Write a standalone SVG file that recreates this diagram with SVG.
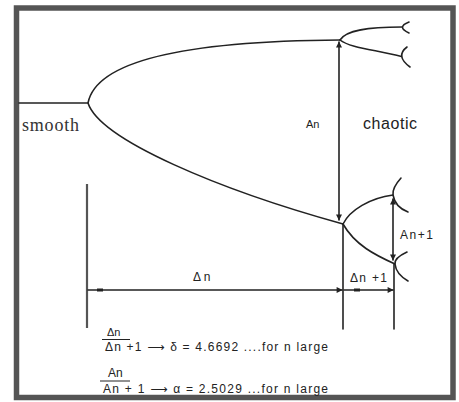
<svg xmlns="http://www.w3.org/2000/svg" width="459" height="402" viewBox="0 0 459 402">
<defs>
<style>
.ln{fill:none;stroke:#222;stroke-width:1.6;stroke-linecap:round}
.gr{fill:none;stroke:#555;stroke-width:2.2}
.sans{font-family:"Liberation Sans","DejaVu Sans",sans-serif;fill:#222}
.serif{font-family:"Liberation Serif","DejaVu Serif",serif;fill:#333}
</style>
<marker id="ah" viewBox="0 0 10 10" refX="9" refY="5" markerWidth="8" markerHeight="6" markerUnits="userSpaceOnUse" orient="auto-start-reverse">
<path d="M0,0 L10,5 L0,10 z" fill="#222"/>
</marker>
</defs>
<rect x="0" y="0" width="459" height="402" fill="#fff"/>
<rect x="16.5" y="8" width="436.5" height="389.5" fill="none" stroke="#555" stroke-width="5.5"/>

<g id="curves">
<path class="ln" d="M19,103 L88,103"/>
<path class="ln" d="M340,40 C180,41 96,62 88,103 C100,140 220,190 343,224"/>
<path class="ln" d="M340,40 C346,30 368,27 402,27"/>
<path class="ln" d="M409,22 Q396,27 409,33"/>
<path class="ln" d="M340,40 C350,48 378,50 401.5,56.5"/>
<path class="ln" d="M407,47 Q395,56 410,67"/>
<path class="ln" d="M343,224 C350,210 370,198 393,195"/>
<path class="ln" d="M401,178 Q392,188 393,195 Q395,207 408,212"/>
<path class="ln" d="M343,224 C355,245 375,255 395,264"/>
<path class="ln" d="M407,252 Q394,258 395,264 Q396,274 408,281"/>
</g>

<g id="connectors">
<line class="ln" x1="339" y1="42" x2="339" y2="220" marker-start="url(#ah)" marker-end="url(#ah)"/>
<line class="ln" x1="393" y1="199" x2="393" y2="260" marker-start="url(#ah)" marker-end="url(#ah)"/>
<line class="gr" x1="87" y1="184" x2="87" y2="328"/>
<line class="ln" x1="343" y1="224" x2="343" y2="329"/>
<line class="ln" x1="394" y1="264" x2="394" y2="329"/>
<line class="ln" x1="88" y1="290" x2="342" y2="290" marker-end="url(#ah)"/>
<line class="ln" x1="344" y1="290" x2="393" y2="290" marker-end="url(#ah)"/>
<line x1="97" y1="290" x2="103" y2="290" stroke="#222" stroke-width="3"/>
<line x1="354" y1="290" x2="360" y2="290" stroke="#222" stroke-width="3"/>
</g>

<g id="labels">
<text class="serif" x="22" y="131" font-size="18" textLength="57">smooth</text>
<text class="sans" x="306" y="128" font-size="11">An</text>
<text class="sans" x="363" y="129" font-size="16" textLength="54">chaotic</text>
<text class="sans" x="400" y="239" font-size="12" textLength="33">An+1</text>
<text class="sans" x="193" y="281" font-size="12">Δ n</text>
<text class="sans" x="350" y="282" font-size="12" textLength="37">Δn +1</text>
</g>

<g id="formulas">
<text class="sans" x="107" y="336" font-size="11">Δn</text>
<line x1="102" y1="339.5" x2="130" y2="339.5" stroke="#222" stroke-width="1"/>
<text class="sans" x="105" y="351" font-size="12" textLength="223" lengthAdjust="spacing">Δn  +1 ⟶ δ = 4.6692 ....for n large</text>
<text class="sans" x="108" y="377" font-size="12">An</text>
<line x1="100" y1="381" x2="130" y2="381" stroke="#222" stroke-width="1"/>
<text class="sans" x="103" y="393" font-size="12" textLength="225" lengthAdjust="spacing">An + 1 ⟶ α = 2.5029 ...for n large</text>
</g>
</svg>
